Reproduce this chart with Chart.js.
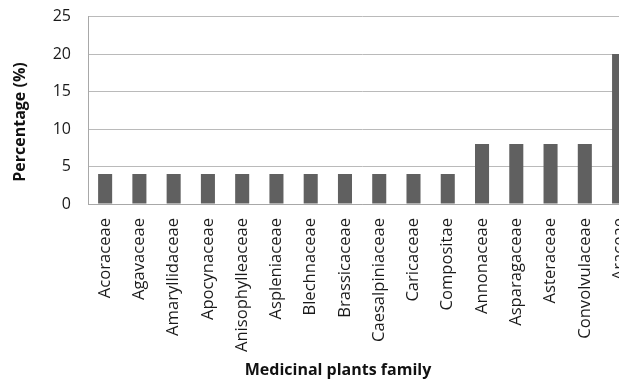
<!DOCTYPE html>
<html lang="en">
<head>
    <meta charset="UTF-8">
    <title>Medicinal plants family</title>
    <script src="https://cdn.jsdelivr.net/npm/chart.js"></script>
    <style>
        body { margin: 0; padding: 0; background: #fff; overflow: hidden; width: 619px; height: 383px; position: relative; }
        .wrap { position: absolute; left: 0; top: -10px; width: 653px; height: 393px; }
    </style>
</head>
<body>
<div class="wrap"><canvas id="familyChart" width="653" height="393"></canvas></div>

<script>
const families = ['Acoraceae', 'Agavaceae', 'Amaryllidaceae', 'Apocynaceae', 'Anisophylleaceae',
    'Aspleniaceae', 'Blechnaceae', 'Brassicaceae', 'Caesalpiniaceae', 'Caricaceae', 'Compositae',
    'Annonaceae', 'Asparagaceae', 'Asteraceae', 'Convolvulaceae', 'Araceae'];
const percentages = [4, 4, 4, 4, 4, 4, 4, 4, 4, 4, 4, 8, 8, 8, 8, 20];
const yTicks = [0, 5, 10, 15, 20, 25];

const font = "'Open Sans', sans-serif";

// axis titles sit a little off-centre, so they are drawn by hand
const axisTitles = {
    id: 'axisTitles',
    afterDraw(chart) {
        const ctx = chart.ctx;
        ctx.save();
        ctx.fillStyle = '#111';
        ctx.font = "bold 16px 'Open Sans', sans-serif";
        ctx.textAlign = 'center';
        ctx.textBaseline = 'middle';
        ctx.fillText('Medicinal plants family', 338, 380);
        ctx.translate(20, 132);
        ctx.rotate(-Math.PI / 2);
        ctx.fillText('Percentage (%)', 0, 0);
        ctx.restore();
    }
};

new Chart(document.getElementById('familyChart'), {
    type: 'bar',
    data: {
        labels: families,
        datasets: [{ data: percentages, backgroundColor: '#606060', barPercentage: 0.41, categoryPercentage: 1 }]
    },
    options: {
        responsive: false,
        animation: false,
        layout: { padding: { left: 6, top: 0, right: 0, bottom: 2 } },
        plugins: { legend: { display: false }, tooltip: { enabled: false } },
        scales: {
            x: {
                afterFit: axis => { axis.height = 177; },
                grid: { display: false, drawTicks: false },
                border: { color: '#a8a8a8', width: 1 },
                ticks: { color: '#1a1a1a', font: { family: font, size: 16.6 }, minRotation: 90, maxRotation: 90, padding: 14, autoSkip: false }
            },
            y: {
                min: 0, max: 25,
                afterBuildTicks: axis => { axis.ticks = yTicks.map(v => ({ value: v })); },
                afterFit: axis => { axis.width = 82; },
                grid: { color: '#bababa', drawTicks: false },
                border: { color: '#a8a8a8', width: 1 },
                ticks: { color: '#1a1a1a', font: { family: font, size: 16 }, padding: 17 }
            }
        }
    },
    plugins: [axisTitles]
});
</script>
</body>
</html>
